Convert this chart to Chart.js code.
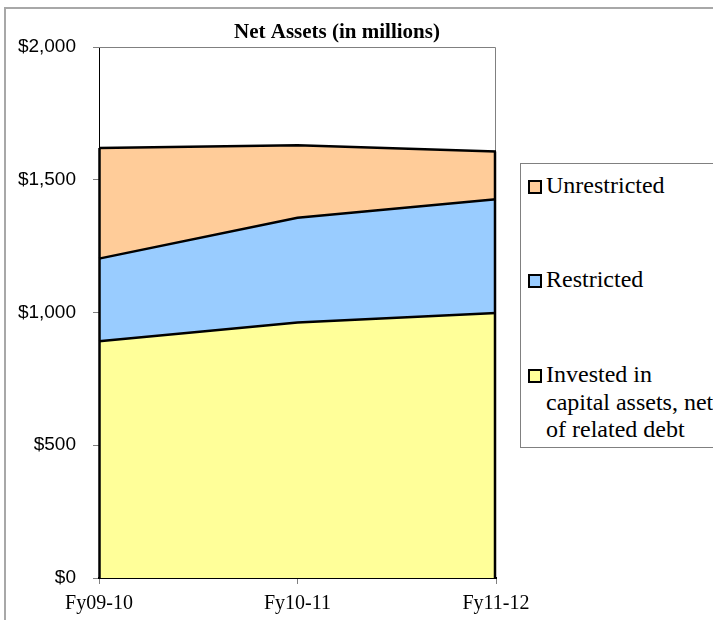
<!DOCTYPE html>
<html>
<head>
<meta charset="utf-8">
<script src="https://cdn.jsdelivr.net/npm/chart.js@4/dist/chart.umd.min.js"></script>
<style>
  body { margin: 0; background: #fff; }
  #wrap { position: relative; width: 713px; height: 620px; overflow: hidden; }
  #frame { position: absolute; left: 4px; top: 7px; width: 800px; height: 700px;
           border-top: 2px solid #a8a8a8; border-left: 2px solid #a8a8a8; }
  #chart { position: absolute; left: 0; top: 0; }
  #legend { position: absolute; left: 520px; top: 163px; width: 220px; height: 283px;
            border: 1px solid #808080; background: #fff;
            font-family: "Liberation Serif", "Times New Roman", serif; font-size: 24px; line-height: 27.5px; }
  .item { position: absolute; left: 25px; }
  .sw { position: absolute; left: -18px; top: 8px; width: 10px; height: 10px; border: 2px solid #000; }
</style>
</head>
<body>
<div id="wrap">
  <div id="frame"></div>
  <canvas id="chart" width="713" height="620"></canvas>
  <div id="legend"></div>
</div>
<script>
var categories = ['Fy09-10', 'Fy10-11', 'Fy11-12'];
var invested = [892, 962, 998];
var restricted = [311, 395, 429];
var unrestricted = [417, 273, 179];
var seriesNames = ['Invested in capital assets, net of related debt', 'Restricted', 'Unrestricted'];
var seriesColors = ['#FFFF99', '#99CCFF', '#FFCC99'];

// legend, drawn as html so it can wrap and have a box
var legendItems = [
  { name: 'Unrestricted', color: seriesColors[2], top: 8 },
  { name: 'Restricted', color: seriesColors[1], top: 102 },
  { name: 'Invested in<br>capital assets, net<br>of related debt', color: seriesColors[0], top: 197 }
];
var lg = document.getElementById('legend');
legendItems.forEach(function (it) {
  var d = document.createElement('div');
  d.className = 'item';
  d.style.top = it.top + 'px';
  d.innerHTML = '<span class="sw" style="background:' + it.color + '"></span>' + it.name;
  lg.appendChild(d);
});

var titlePlugin = {
  id: 'titleText',
  afterDraw: function (chart) {
    var ctx = chart.ctx;
    ctx.save();
    ctx.font = 'bold 21px "Liberation Serif"';
    ctx.fillStyle = '#000';
    ctx.textAlign = 'center';
    ctx.textBaseline = 'alphabetic';
    ctx.fillText('Net Assets (in millions)', 337, 38);
    ctx.restore();
  }
};

// plot area border (grey) and the outline of the stacked areas at the right edge
var edgePlugin = {
  id: 'edges',
  beforeDatasetsDraw: function (chart) {
    var a = chart.chartArea, ctx = chart.ctx;
    ctx.save();
    ctx.strokeStyle = '#808080';
    ctx.lineWidth = 1;
    ctx.beginPath();
    ctx.moveTo(a.left, a.top + 0.5);
    ctx.lineTo(a.right - 0.5, a.top + 0.5);
    ctx.lineTo(a.right - 0.5, a.bottom);
    ctx.stroke();
    ctx.restore();
  },
  afterDatasetsDraw: function (chart) {
    var y = chart.scales.y, x = chart.scales.x, ctx = chart.ctx;
    var last = categories.length - 1;
    var total = invested[last] + restricted[last] + unrestricted[last];
    var first = invested[0] + restricted[0] + unrestricted[0];
    ctx.save();
    ctx.strokeStyle = '#000';
    ctx.lineWidth = 2.5;
    ctx.beginPath();
    ctx.moveTo(x.getPixelForValue(last) - 1, y.getPixelForValue(0));
    ctx.lineTo(x.getPixelForValue(last) - 1, y.getPixelForValue(total));
    ctx.moveTo(x.getPixelForValue(0) + 0.5, y.getPixelForValue(0));
    ctx.lineTo(x.getPixelForValue(0) + 0.5, y.getPixelForValue(first));
    ctx.stroke();
    ctx.restore();
  }
};

var ctx = document.getElementById('chart').getContext('2d');
var chart = new Chart(ctx, {
  type: 'line',
  data: {
    labels: categories,
    datasets: [{
      label: seriesNames[0],
      data: invested,
      backgroundColor: seriesColors[0],
      borderColor: '#000',
      borderWidth: 2.5,
      fill: 'origin'
    }, {
      label: seriesNames[1],
      data: restricted,
      backgroundColor: seriesColors[1],
      borderColor: '#000',
      borderWidth: 2.5,
      fill: '-1'
    }, {
      label: seriesNames[2],
      data: unrestricted,
      backgroundColor: seriesColors[2],
      borderColor: '#000',
      borderWidth: 2.5,
      fill: '-1'
    }]
  },
  options: {
    responsive: false,
    animation: false,
    devicePixelRatio: 1,
    layout: { padding: { left: 0, right: 217, top: 47, bottom: 0 } },
    elements: { point: { radius: 0 }, line: { tension: 0 } },
    plugins: { legend: { display: false }, title: { display: false }, tooltip: { enabled: false } },
    scales: {
      x: {
        offset: false,
        grid: { drawOnChartArea: false, drawTicks: true, tickLength: 6, color: '#808080' },
        border: { color: '#000', width: 2 },
        ticks: { color: '#000', padding: 8, maxRotation: 0,
                 font: { family: 'Liberation Serif', size: 20 } },
        afterFit: function (s) { s.height = 42; }
      },
      y: {
        stacked: true,
        min: 0,
        max: 2000,
        grid: { drawOnChartArea: false, drawTicks: true, tickLength: 6, color: '#808080' },
        border: { color: '#000', width: 1 },
        ticks: {
          stepSize: 500, color: '#000', padding: 17,
          font: { family: 'Liberation Sans', size: 19 },
          callback: function (v) { return '$' + v.toLocaleString('en-US'); }
        },
        afterFit: function (s) { s.width = 99; }
      }
    }
  },
  plugins: [titlePlugin, edgePlugin]
});
</script>
</body>
</html>
